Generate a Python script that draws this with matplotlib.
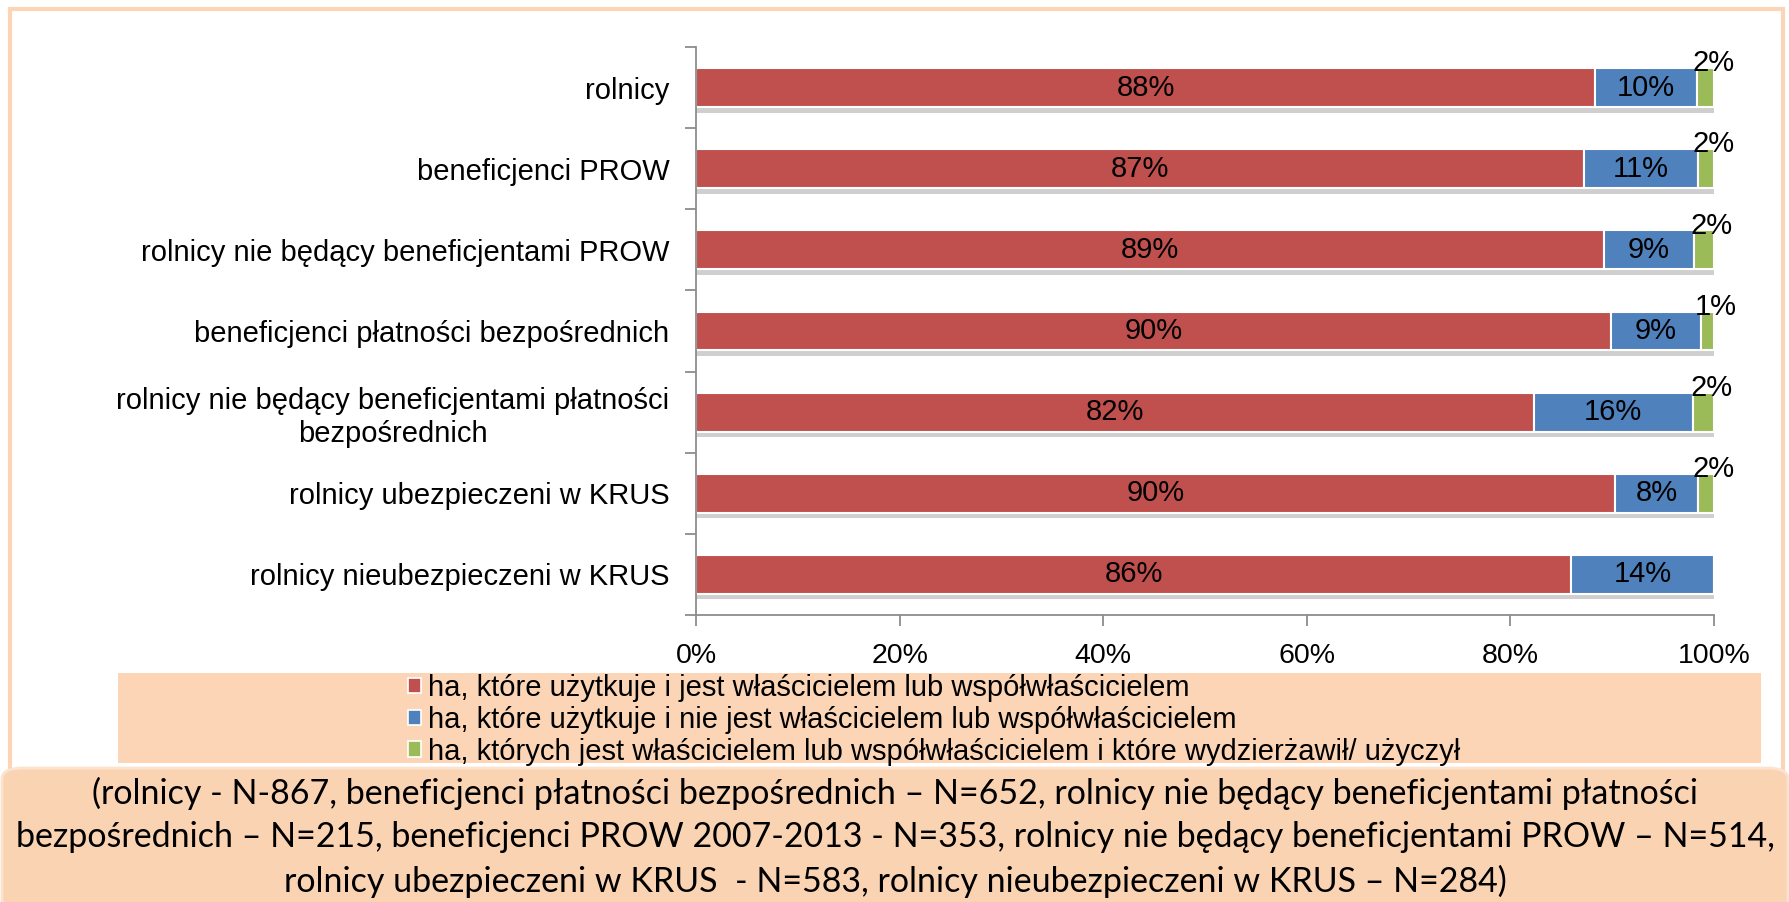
"""
Stacked horizontal bars: share of land (ha) by ownership status, per farmer group.
Output: out.png
"""
import matplotlib
matplotlib.use("Agg")
import matplotlib.pyplot as plt
import matplotlib.patheffects as pe
from matplotlib.patches import Rectangle, FancyBboxPatch
from matplotlib.ticker import FixedLocator, PercentFormatter
import numpy as np

plt.rcParams["font.family"] = ["Liberation Sans", "DejaVu Sans"]

categories = [
    "rolnicy",
    "beneficjenci PROW",
    "rolnicy nie będący beneficjentami PROW",
    "beneficjenci płatności bezpośrednich",
    "rolnicy nie będący beneficjentami płatności\nbezpośrednich",
    "rolnicy ubezpieczeni w KRUS",
    "rolnicy nieubezpieczeni w KRUS",
]
owned_used = [88.3, 87.2, 89.2, 89.9, 82.3, 90.3, 86.0]
used_not_owned = [10.0, 11.2, 8.8, 8.8, 15.6, 8.1, 14.0]
owned_leased = [1.7, 1.6, 2.0, 1.3, 2.1, 1.6, 0.0]

series_names = [
    "ha, które użytkuje i jest właścicielem lub współwłaścicielem",
    "ha, które użytkuje i nie jest właścicielem lub współwłaścicielem",
    "ha, których jest właścicielem lub współwłaścicielem i które wydzierżawił/ użyczył",
]
colors = ["#C0504D", "#4F81BD", "#9BBB59"]

note = ("(rolnicy - N-867, beneficjenci płatności bezpośrednich – N=652, rolnicy nie będący beneficjentami płatności\n"
        "bezpośrednich – N=215, beneficjenci PROW 2007-2013 - N=353, rolnicy nie będący beneficjentami PROW – N=514,\n"
        "rolnicy ubezpieczeni w KRUS  - N=583, rolnicy nieubezpieczeni w KRUS – N=284)")

W, H = 1790, 902
PEACH = "#FBD5B5"

fig = plt.figure(figsize=(W / 100, H / 100), dpi=100)
fig.patch.set_facecolor("white")

# outer frame
fig.patches.append(Rectangle((10 / W, 0), (1783 - 10) / W, 1 - 9 / H, transform=fig.transFigure,
                             fill=False, edgecolor=PEACH, linewidth=3, zorder=0))
# legend background
fig.patches.append(Rectangle((118 / W, 1 - 763 / H), (1761 - 118) / W, (763 - 673) / H,
                             transform=fig.transFigure, facecolor=PEACH, edgecolor="none", zorder=1))
# note box
fig.patches.append(FancyBboxPatch((2 / W, -0.05), (W - 4) / W, 0.05 + 1 - 768 / H,
                                  boxstyle="round,pad=0,rounding_size=0.012",
                                  transform=fig.transFigure, facecolor="#FAD3B3",
                                  edgecolor="#FCE3CF", linewidth=2, zorder=1))

ax = fig.add_axes([696 / W, 1 - 615 / H, (1714 - 696) / W, (615 - 47) / H])

y = np.arange(len(categories))
shadow = [pe.SimplePatchShadow(offset=(0, -4), shadow_rgbFace="#777777", alpha=0.35), pe.Normal()]
left = np.zeros(len(categories))
for vals, col, name in zip([owned_used, used_not_owned, owned_leased], colors, series_names):
    vals = np.array(vals)
    bars = ax.barh(y, vals, left=left, height=0.48, color=col, edgecolor="white",
                   linewidth=1.5, label=name)
    for b in bars:
        b.set_path_effects(shadow)
    left = left + vals

# value labels
for i in range(len(categories)):
    ax.text(owned_used[i] / 2, y[i], f"{owned_used[i]:.0f}%", ha="center", va="center", fontsize=21)
    ax.text(owned_used[i] + used_not_owned[i] / 2, y[i], f"{used_not_owned[i]:.0f}%",
            ha="center", va="center", fontsize=21)
    if owned_leased[i] > 0:
        xg = owned_used[i] + used_not_owned[i] + owned_leased[i] / 2
        ax.text(xg + 0.8, y[i] - 0.3, f"{owned_leased[i]:.0f}%", ha="center", va="center", fontsize=21)

ax.set_xlim(0, 100)
ax.set_ylim(len(categories) - 0.5, -0.5)
ax.set_xticks(np.arange(0, 101, 20))
ax.xaxis.set_major_formatter(PercentFormatter(decimals=0))
ax.set_yticks(y)
ax.set_yticklabels(categories, fontsize=21, multialignment="center")
ax.yaxis.set_minor_locator(FixedLocator(np.arange(-0.5, len(categories), 1)))
ax.tick_params(axis="y", which="major", length=0, pad=19)
ax.tick_params(axis="y", which="minor", length=8, color="#8C8C8C", width=1.3)
ax.tick_params(axis="x", length=8, color="#8C8C8C", width=1.3, labelsize=20.5, pad=12)

for s in ["top", "right"]:
    ax.spines[s].set_visible(False)
for s in ["left", "bottom"]:
    ax.spines[s].set_color("#8C8C8C")
    ax.spines[s].set_linewidth(1.3)

leg = fig.legend(loc="upper left", bbox_to_anchor=(408 / W, 1 - 674 / H), frameon=False,
                 fontsize=21, handlelength=0.45, handleheight=0.45, handletextpad=0.25,
                 labelspacing=0.13, borderpad=0, borderaxespad=0)
for h in leg.legend_handles:
    h.set_path_effects([])
    h.set_edgecolor("white")
    h.set_linewidth(1.2)

fig.text(0.5, 1 - 837 / H, note, ha="center", va="center", fontsize=24.5,
         family=["Lato", "DejaVu Sans"], linespacing=1.43)

fig.savefig("out.png", dpi=100)
